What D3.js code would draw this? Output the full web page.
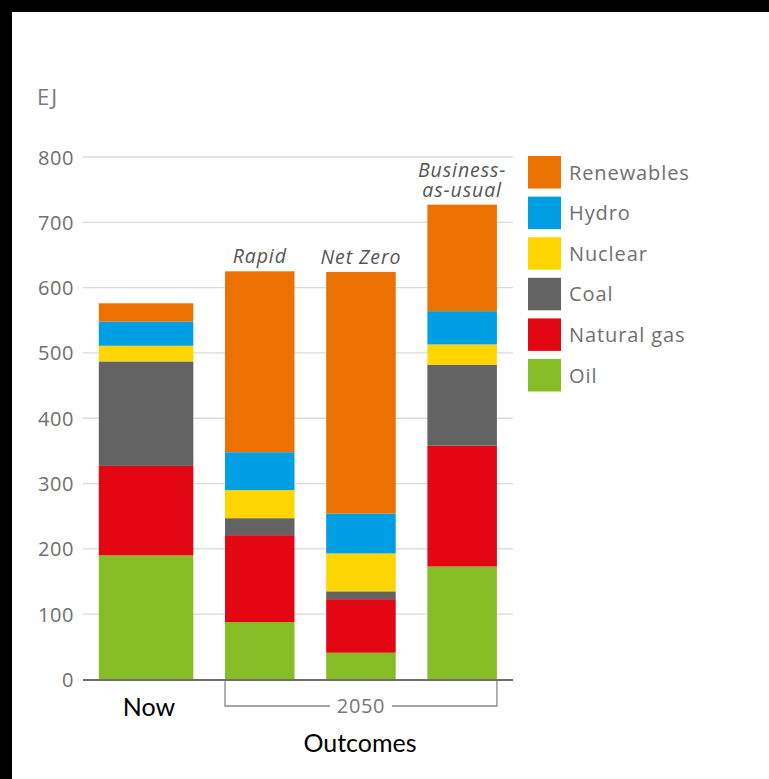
<!DOCTYPE html>
<html>
<head>
<meta charset="utf-8">
<script src="https://cdn.jsdelivr.net/npm/d3@7"></script>
<style>
  html, body { margin: 0; padding: 0; background: #000; }
  svg { display: block; }
</style>
</head>
<body>
<script>
// ---- Data ----
const categories = ["Now", "Rapid", "Net Zero", "Business-as-usual"];
const sources = ["Oil", "Natural gas", "Coal", "Nuclear", "Hydro", "Renewables"];
const oil        = [190,  88,  41, 173];
const naturalGas = [137, 133,  82, 185];
const coal       = [160,  26,  12, 124];
const nuclear    = [ 24,  43,  58,  31];
const hydro      = [ 37,  58,  61,  51];
const renewables = [ 28, 277, 370, 163];
const yTicks = [0, 100, 200, 300, 400, 500, 600, 700, 800];
const legendOrder = ["Renewables", "Hydro", "Nuclear", "Coal", "Natural gas", "Oil"];
const scenarioLabels = { "Rapid": ["Rapid"], "Net Zero": ["Net Zero"], "Business-as-usual": ["Business-", "as-usual"] };
const unitLabel = "EJ";
const groupLabel = "2050";
const axisTitle = "Outcomes";

const colors = {
  "Oil": "#86bc25",
  "Natural gas": "#e30613",
  "Coal": "#646363",
  "Nuclear": "#ffd500",
  "Hydro": "#009fe3",
  "Renewables": "#eb7100"
};

const seriesValues = { "Oil": oil, "Natural gas": naturalGas, "Coal": coal, "Nuclear": nuclear, "Hydro": hydro, "Renewables": renewables };
const table = categories.map((c, i) => {
  const row = { category: c };
  sources.forEach(s => row[s] = seriesValues[s][i]);
  return row;
});

// ---- Layout ----
const W = 769, H = 779;
const svg = d3.select("body").append("svg").attr("width", W).attr("height", H);
svg.append("rect").attr("width", W).attr("height", H).attr("fill", "#000");
svg.append("rect").attr("x", 12).attr("y", 12).attr("width", W - 12).attr("height", H - 12).attr("fill", "#fff");

const tickFont = "'Open Sans', Roboto, sans-serif";
const gridLeft = 83, gridRight = 513;
const nowExtra = 25;

const x = d3.scaleBand().domain(categories).range([123.8, 496.9]).paddingInner(0.313).paddingOuter(0);
const y = d3.scaleLinear().domain([0, 800]).range([679.5, 157]);

// gridlines
svg.append("g").selectAll("line").data(yTicks.filter(t => t !== 0)).join("line")
  .attr("x1", gridLeft).attr("x2", gridRight)
  .attr("y1", d => y(d)).attr("y2", d => y(d))
  .attr("stroke", "#dadada").attr("stroke-width", 1.3);

// y axis labels via d3.axisLeft
const yAxis = d3.axisLeft(y).tickValues(yTicks).tickSize(0).tickPadding(0);
const gy = svg.append("g").attr("transform", "translate(74,0)").call(yAxis);
gy.select(".domain").remove();
gy.selectAll("text").attr("font-family", tickFont).attr("font-size", 20)
  .attr("letter-spacing", 0.6)
  .attr("fill", "#6f6f6f").attr("text-anchor", "end").attr("dy", "0.35em");

// stacked bars
const stack = d3.stack().keys(sources);
const layers = stack(table);
svg.append("g").selectAll("g").data(layers).join("g")
  .attr("fill", d => colors[d.key])
  .selectAll("rect").data(d => d).join("rect")
  .attr("x", d => x(d.data.category) - (d.data.category === "Now" ? nowExtra : 0))
  .attr("width", d => x.bandwidth() + (d.data.category === "Now" ? nowExtra : 0))
  .attr("y", d => y(d[1]))
  .attr("height", d => y(d[0]) - y(d[1]));

// baseline
svg.append("line").attr("x1", gridLeft).attr("x2", gridRight)
  .attr("y1", y(0) + 0.5).attr("y2", y(0) + 0.5)
  .attr("stroke", "#6e6e6e").attr("stroke-width", 2);

// unit label
svg.append("text").attr("x", 37).attr("y", 105).text(unitLabel)
  .attr("font-family", tickFont).attr("font-size", 22).attr("letter-spacing", 2)
  .attr("fill", "#7a7a7a");

// scenario labels (multi-line as tspans of one text)
const totals = table.map(r => d3.sum(sources, s => r[s]));
categories.forEach((c, i) => {
  const lines = scenarioLabels[c];
  if (!lines) return;
  const cx = x(c) + x.bandwidth() / 2;
  const top = y(totals[i]);
  const t = svg.append("text").attr("text-anchor", "middle").attr("font-family", tickFont)
    .attr("font-style", "italic").attr("font-size", 19.5).attr("letter-spacing", 0.9)
    .attr("fill", "#555");
  lines.forEach((ln, j) => {
    t.append("tspan").attr("x", cx).attr("y", top - 8 - (lines.length - 1 - j) * 20).text(ln);
  });
});

// 2050 bracket
const bx0 = x("Rapid"), bx1 = x("Business-as-usual") + x.bandwidth();
const by0 = y(0) + 1.5, by1 = 706;
const bmid = (bx0 + bx1) / 2;
const gap = 31;
const bracket = d3.path();
bracket.moveTo(bmid - gap, by1); bracket.lineTo(bx0, by1); bracket.lineTo(bx0, by0);
bracket.moveTo(bmid + gap, by1); bracket.lineTo(bx1, by1); bracket.lineTo(bx1, by0);
svg.append("path").attr("d", bracket.toString()).attr("fill", "none")
  .attr("stroke", "#8a8a8a").attr("stroke-width", 1.3);
svg.append("text").attr("x", bmid).attr("y", by1).attr("dy", "0.35em")
  .attr("text-anchor", "middle").attr("font-family", tickFont).attr("font-size", 20)
  .attr("letter-spacing", 0.6)
  .attr("fill", "#777").text(groupLabel);

// Now label & Outcomes
svg.append("text").attr("x", 149).attr("y", 716).attr("text-anchor", "middle")
  .attr("font-family", "Lato, 'Open Sans', sans-serif").attr("font-size", 25).attr("fill", "#000")
  .text(categories[0]);
svg.append("text").attr("x", 360).attr("y", 752).attr("text-anchor", "middle")
  .attr("font-family", "Lato, 'Open Sans', sans-serif").attr("font-size", 25).attr("fill", "#000")
  .text(axisTitle);

// legend
const lg = svg.append("g").attr("transform", "translate(528,156)");
const li = lg.selectAll("g").data(legendOrder).join("g")
  .attr("transform", (d, i) => `translate(0,${i * 40.6})`);
li.append("rect").attr("width", 33).attr("height", 32.5).attr("fill", d => colors[d]);
li.append("text").attr("x", 41).attr("y", 16.5).attr("dy", "0.36em")
  .attr("font-family", tickFont).attr("font-size", 20).attr("letter-spacing", 0.9)
  .attr("fill", "#6f6f6f")
  .text(d => d);
</script>
</body>
</html>
